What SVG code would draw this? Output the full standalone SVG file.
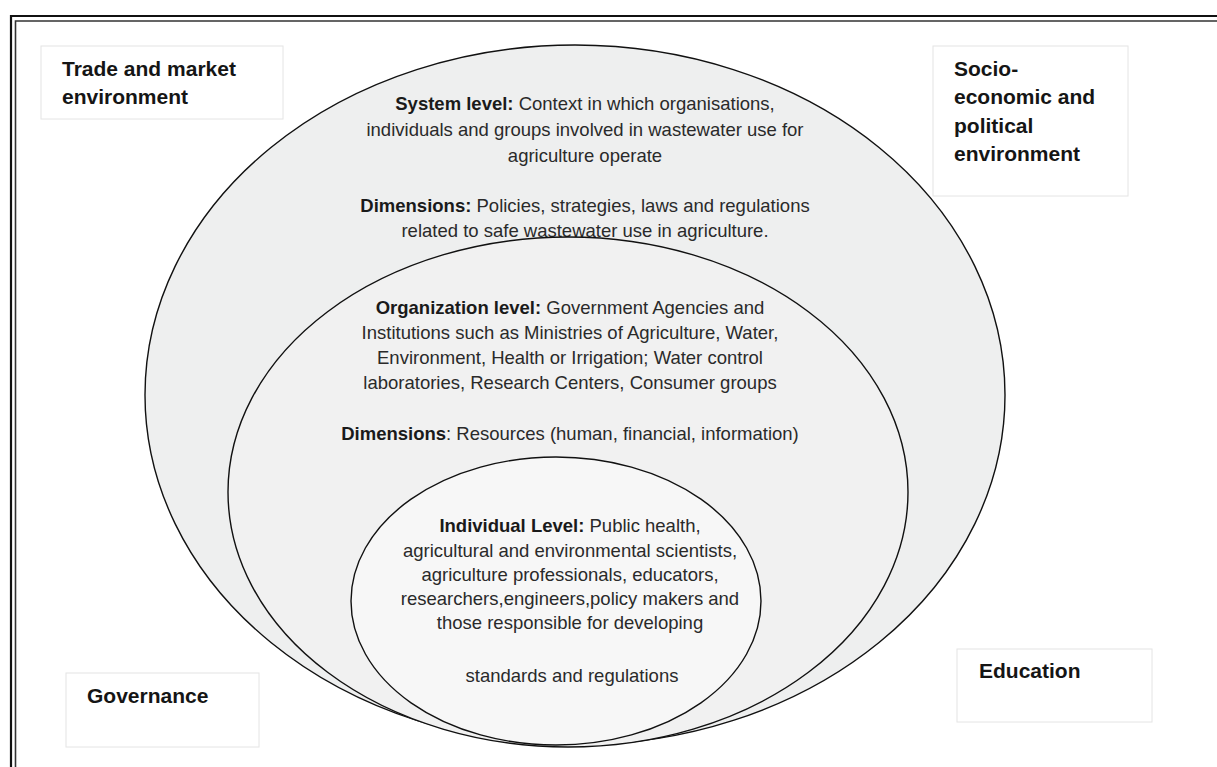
<svg xmlns="http://www.w3.org/2000/svg" width="1217" height="767" viewBox="0 0 1217 767">
  <style>
    .frame-outer { fill: none; stroke: #111; stroke-width: 2.2; }
    .frame-inner { fill: none; stroke: #333; stroke-width: 1.6; }
    .label-box { fill: #fff; stroke: #e4e4e4; stroke-width: 1; }
    .label { font-family: "Liberation Sans", Arial, sans-serif; font-size: 21px; font-weight: bold; fill: #151515; }
    .ring { stroke: #111; stroke-width: 1.4; }
    .body { font-family: "Liberation Sans", Arial, sans-serif; font-size: 18.5px; fill: #2a2a2a; text-anchor: middle; }
    .b { font-weight: bold; fill: #1a1a1a; }
  </style>

  <rect width="1217" height="767" fill="#fff"/>

  <!-- double frame, running off the right and bottom edges -->
  <path class="frame-outer" d="M11 767 V16 H1217"/>
  <path class="frame-inner" d="M15.5 767 V21 H1217"/>

  <!-- environment labels -->
  <g id="trade">
    <rect class="label-box" x="41" y="46" width="242" height="73"/>
    <text class="label" x="62" y="76">Trade and market</text>
    <text class="label" x="62" y="104">environment</text>
  </g>
  <g id="socio">
    <rect class="label-box" x="933" y="46" width="195" height="150"/>
    <text class="label" x="954" y="76">Socio-</text>
    <text class="label" x="954" y="104">economic and</text>
    <text class="label" x="954" y="133">political</text>
    <text class="label" x="954" y="161">environment</text>
  </g>
  <g id="governance">
    <rect class="label-box" x="66" y="673" width="193" height="74"/>
    <text class="label" x="87" y="703">Governance</text>
  </g>
  <g id="education">
    <rect class="label-box" x="957" y="649" width="195" height="73"/>
    <text class="label" x="979" y="678">Education</text>
  </g>

  <!-- nested capacity levels -->
  <g id="system-level">
    <ellipse class="ring" cx="575" cy="395" rx="430" ry="350" fill="#eeefef"/>
    <text class="body" x="585" y="110"><tspan class="b">System level:</tspan> Context in which organisations,</text>
    <text class="body" x="585" y="136">individuals and groups involved in wastewater use for</text>
    <text class="body" x="585" y="162">agriculture operate</text>
    <text class="body" x="585" y="212"><tspan class="b">Dimensions:</tspan> Policies, strategies, laws and regulations</text>
    <text class="body" x="585" y="237">related to safe wastewater use in agriculture.</text>
  </g>
  <g id="organization-level">
    <ellipse class="ring" cx="568" cy="492" rx="340" ry="255" fill="#f1f1f1"/>
    <text class="body" x="570" y="314"><tspan class="b">Organization level:</tspan> Government Agencies and</text>
    <text class="body" x="570" y="339">Institutions such as Ministries of Agriculture, Water,</text>
    <text class="body" x="570" y="364">Environment, Health or Irrigation; Water control</text>
    <text class="body" x="570" y="389">laboratories, Research Centers, Consumer groups</text>
    <text class="body" x="570" y="440"><tspan class="b">Dimensions</tspan>: Resources (human, financial, information)</text>
  </g>
  <g id="individual-level">
    <ellipse class="ring" cx="556" cy="601" rx="205" ry="144" fill="#f7f7f7"/>
    <text class="body" x="570" y="532"><tspan class="b">Individual Level:</tspan> Public health,</text>
    <text class="body" x="570" y="557">agricultural and environmental scientists,</text>
    <text class="body" x="570" y="581">agriculture professionals, educators,</text>
    <text class="body" x="570" y="605">researchers,engineers,policy makers and</text>
    <text class="body" x="570" y="629">those responsible for developing</text>
    <text class="body" x="572" y="682">standards and regulations</text>
  </g>
</svg>
